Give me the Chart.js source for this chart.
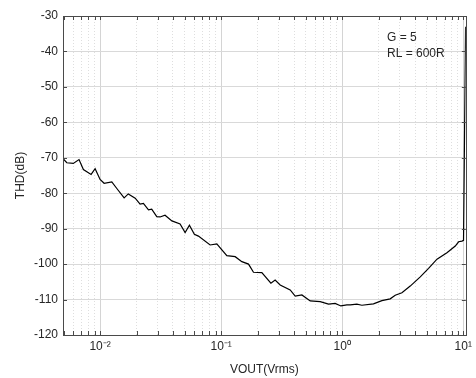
<!DOCTYPE html>
<html lang="en">
<head>
  <meta charset="UTF-8">
  <title>THD vs VOUT</title>
  <script src="https://cdn.jsdelivr.net/npm/chart.js"></script>
  <style>
    html, body { margin: 0; padding: 0; background: #fff; }
    #wrap { width: 476px; height: 378px; }
  </style>
</head>
<body>
  <div id="wrap"><canvas id="thdChart"></canvas></div>

  <script>
    // values
    const vout = [0.00497, 0.00531, 0.00601, 0.0067, 0.00728, 0.00843, 0.0091, 0.01, 0.0108, 0.0125,
      0.0137, 0.0158, 0.0171, 0.0195, 0.0214, 0.0228, 0.0251, 0.0267, 0.0294, 0.0313,
      0.0344, 0.0392, 0.0458, 0.0504, 0.0547, 0.0601, 0.0649, 0.0811, 0.0921, 0.1114,
      0.1306, 0.1483, 0.1683, 0.185, 0.2169, 0.2576, 0.2793, 0.3073, 0.3718, 0.409,
      0.4645, 0.5444, 0.658, 0.771, 0.875, 0.975, 1.093, 1.164, 1.323, 1.454,
      1.813, 2.127, 2.492, 2.741, 3.114, 3.647, 4.413, 5.169, 6.067, 7.33,
      8.59, 9.15, 9.75, 10.05, 10.45];
    const thd = [-70.3, -71.4, -71.6, -70.5, -73.3, -74.7, -73.1, -76.1, -77.2, -76.8,
      -78.6, -81.3, -80.2, -81.4, -83.1, -82.9, -84.7, -84.5, -86.6, -86.7,
      -86.2, -87.8, -88.7, -91.1, -89.0, -91.6, -92.1, -94.6, -94.3, -97.6,
      -97.9, -99.3, -100.0, -102.3, -102.4, -105.4, -104.5, -105.9, -107.3, -109.0,
      -108.7, -110.4, -110.6, -111.3, -111.1, -111.8, -111.5, -111.5, -111.3, -111.6,
      -111.2, -110.3, -109.8, -108.8, -108.1, -106.2, -103.6, -101.2, -98.6, -96.8,
      -94.9, -93.7, -93.5, -93.3, -33.0];
    const yTicks = [-120, -110, -100, -90, -80, -70, -60, -50, -40, -30];
    const notes = ['G = 5', 'RL = 600R'];

    const sup = { '-': '\u207B', '0': '\u2070', '1': '\u00B9', '2': '\u00B2', '3': '\u00B3' };
    function powLabel(e) {
      return '10' + String(e).split('').map(c => sup[c]).join('');
    }

    // frame box, inward ticks and the text note
    const framePlugin = {
      id: 'frame',
      afterDraw(chart) {
        const { ctx, chartArea: a, scales: { x, y } } = chart;
        ctx.save();
        ctx.strokeStyle = '#4a4a4a';
        ctx.lineWidth = 1;
        ctx.strokeRect(Math.round(a.left) + 0.5, Math.round(a.top) + 0.5,
          Math.round(a.right - a.left), Math.round(a.bottom - a.top));
        ctx.beginPath();
        x.ticks.forEach(t => {
          const px = Math.round(x.getPixelForValue(t.value)) + 0.5;
          ctx.moveTo(px, a.bottom); ctx.lineTo(px, a.bottom - 4);
          ctx.moveTo(px, a.top); ctx.lineTo(px, a.top + 4);
        });
        yTicks.forEach(v => {
          const py = Math.round(y.getPixelForValue(v)) + 0.5;
          ctx.moveTo(a.left, py); ctx.lineTo(a.left + 4, py);
          ctx.moveTo(a.right, py); ctx.lineTo(a.right - 4, py);
        });
        ctx.stroke();
        ctx.fillStyle = '#262626';
        ctx.font = '12px "Liberation Sans", Arial, sans-serif';
        ctx.textBaseline = 'middle';
        ctx.fillText(notes[0], 387, 38);
        ctx.fillText(notes[1], 387, 54);
        ctx.restore();
      }
    };

    const font = { family: '"Liberation Sans", Arial, sans-serif', size: 12 };

    new Chart(document.getElementById('thdChart'), {
      type: 'line',
      data: {
        labels: vout,
        datasets: [{
          data: vout.map((v, i) => ({ x: v, y: thd[i] })),
          borderColor: '#000',
          borderWidth: 1.2,
          pointRadius: 0,
          tension: 0,
          fill: false
        }]
      },
      options: {
        responsive: true,
        maintainAspectRatio: false,
        animation: false,
        layout: { padding: { left: 0, top: 16, right: 10, bottom: 0 } },
        plugins: { legend: { display: false }, tooltip: { enabled: false } },
        scales: {
          x: {
            type: 'logarithmic',
            min: 0.00494,
            max: 10.5,
            afterBuildTicks(scale) {
              const t = [];
              for (let e = -3; e <= 1; e++) {
                for (let m = 1; m <= 9; m++) {
                  const v = m * Math.pow(10, e);
                  if (v >= scale.min && v <= scale.max) t.push({ value: v, major: m === 1 });
                }
              }
              scale.ticks = t;
            },
            afterFit(scale) { scale.height = 43; },
            ticks: {
              autoSkip: false,
              maxRotation: 0,
              padding: 4,
              color: '#262626',
              font: font,
              callback(value) {
                const e = Math.log10(value);
                return Math.abs(e - Math.round(e)) < 1e-6 ? powLabel(Math.round(e)) : '';
              }
            },
            grid: {
              drawTicks: false,
              color(ctx) {
                if (!ctx.tick) return 'rgba(0,0,0,0)';
                const e = Math.log10(ctx.tick.value);
                return Math.abs(e - Math.round(e)) < 1e-6 ? '#d4d4d4' : '#dedede';
              },
              lineWidth: 1
            },
            border: {
              display: false,
              dash(ctx) {
                if (!ctx.tick) return [];
                const e = Math.log10(ctx.tick.value);
                return Math.abs(e - Math.round(e)) < 1e-6 ? [] : [1, 2];
              }
            },
            title: {
              display: true,
              text: 'VOUT(Vrms)',
              color: '#262626',
              font: font,
              padding: { top: 0, bottom: 1 }
            }
          },
          y: {
            min: -120,
            max: -30,
            afterBuildTicks(scale) {
              scale.ticks = yTicks.map(v => ({ value: v }));
            },
            afterFit(scale) { scale.width = 63; },
            ticks: { padding: 5, color: '#262626', font: font },
            grid: { drawTicks: false, color: '#d9d9d9', lineWidth: 1 },
            border: { display: false },
            title: {
              display: true,
              text: 'THD(dB)',
              color: '#262626',
              font: font,
              padding: { top: 13, bottom: 0 }
            }
          }
        }
      },
      plugins: [framePlugin]
    });
  </script>
</body>
</html>
